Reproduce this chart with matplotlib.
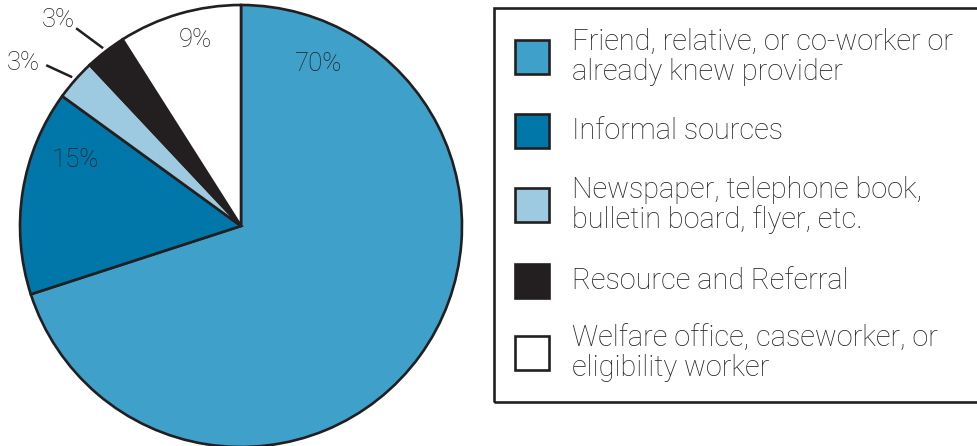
import numpy as np
import matplotlib.pyplot as plt
from matplotlib.patches import Rectangle

# how parents found their provider (percent)
sources = ["Friend, relative, or co-worker or\nalready knew provider",
           "Informal sources",
           "Newspaper, telephone book,\nbulletin board, flyer, etc.",
           "Resource and Referral",
           "Welfare office, caseworker, or\neligibility worker"]
shares = [70, 15, 3, 3, 9]
colors = ["#3fa0c9", "#0077a8", "#9dcae1", "#231f20", "#ffffff"]

# label spots in pixel space (x, y from top); leader offset for the thin slices
label_xy = [(318, 64), (75, 160), (58, 20), (23, 63), (195, 40)]
leader = [None, None, (-26, 12), (-27, 20), None]

W, H = 978, 446
fig = plt.figure(figsize=(W / 100, H / 100), dpi=100)
ax = fig.add_axes([0, 0, 1, 1])

cx, cy, r = 241, H - 226, 221
wedges, _ = ax.pie(shares, colors=colors, startangle=90, counterclock=False,
                   center=(cx, cy), radius=r, frame=True,
                   wedgeprops=dict(edgecolor="#231f20", linewidth=1.9))
ax.set_xlim(0, W)
ax.set_ylim(0, H)
ax.set_aspect("equal")
ax.axis("off")

font = "Roboto"
ink = "#231f20"
for w, v, (lx, ly), ld in zip(wedges, shares, label_xy, leader):
    ax.text(lx, H - ly, f"{v}%", ha="center", va="center", fontsize=18.5,
            family=font, weight="light", color=ink)
    if ld:
        a = np.deg2rad((w.theta1 + w.theta2) / 2)
        x0, y0 = cx + 225 * np.cos(a), cy + 225 * np.sin(a)
        ax.plot([x0, x0 + ld[0]], [y0, y0 + ld[1]], color=ink, lw=1.8,
                solid_capstyle="butt")

# legend box
ax.add_patch(Rectangle((494, H - 402), 500, 394, facecolor="none",
                       edgecolor=ink, lw=1.9, clip_on=False))
box_y = [57, 131, 205, 281, 353]
for c, s, y in zip(colors, sources, box_y):
    ax.add_patch(Rectangle((515, H - y - 17), 34, 34, facecolor=c,
                           edgecolor=ink, lw=1.9))
    ax.text(572, H - y, s, ha="left", va="center", fontsize=20.8,
            family=font, weight="light", color=ink, linespacing=1.08)

fig.savefig("out.png", dpi=100)
